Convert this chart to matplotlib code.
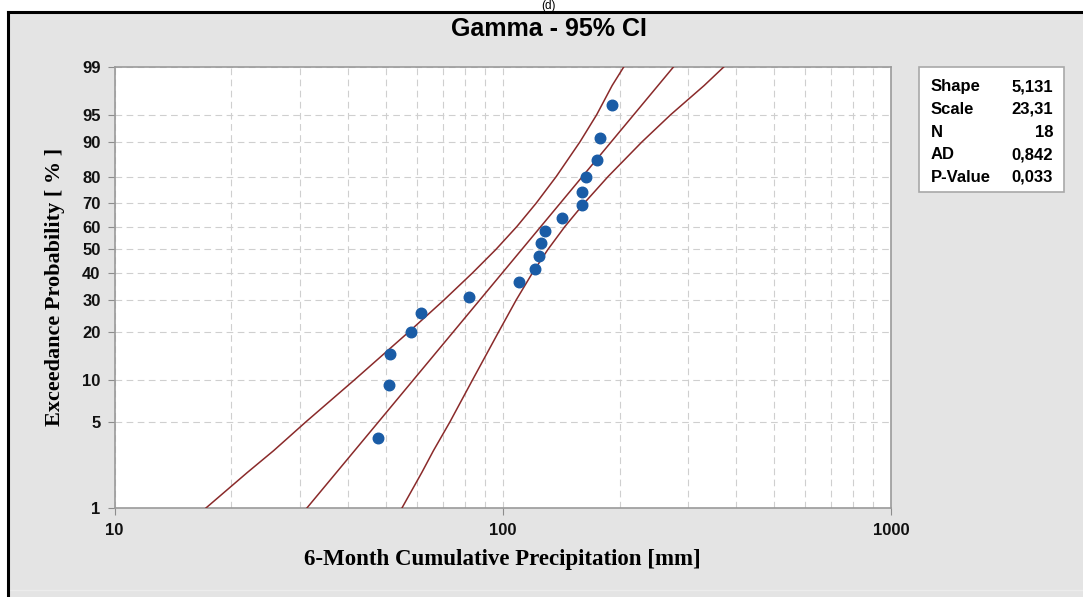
# Gamma probability plot (95% CI) - 6-month cumulative precipitation
import math
import numpy as np
import matplotlib
matplotlib.use("Agg")
import matplotlib.pyplot as plt
from matplotlib.patches import Rectangle
from matplotlib.lines import Line2D
from matplotlib.ticker import FixedLocator, FixedFormatter, NullFormatter

# -------- Data --------
SHAPE = 5.131
SCALE = 23.31

# sample points: precipitation [mm] and plotted probability [%]
PRECIP = [47.6, 50.8, 51.2, 58.0, 61.4, 81.9, 109.8, 121.4, 124.0,
          125.7, 128.3, 142.1, 160.3, 160.3, 164.3, 175.4, 178.4, 191.5]
PROB_PTS = [3.8, 9.2, 14.7, 20.1, 25.5, 31.0, 36.4, 41.8, 47.3,
            52.7, 58.2, 63.6, 69.0, 74.5, 79.9, 85.3, 90.8, 96.2]

# 95% confidence band, read at these probability levels
BAND_PROBS = [1, 2, 3, 5, 10, 20, 30, 40, 50, 60, 70, 80, 90, 95, 98, 99]
LOWER_CI = [17.2, 22.0, 25.7, 31.1, 41.5, 57.2, 70.7, 83.4, 96.0,
            108.7, 122.0, 137.3, 158.1, 174.6, 191.3, 204.9]
UPPER_CI = [55.0, 61.9, 66.3, 73.1, 83.6, 97.5, 108.4, 119.1, 130.7,
            144.5, 162.2, 186.7, 228.4, 270.8, 330.1, 370.8]

Y_TICKS = [1, 5, 10, 20, 30, 40, 50, 60, 70, 80, 90, 95, 99]
X_TICKS = [10, 100, 1000]
X_MINOR = [20, 30, 40, 50, 60, 70, 80, 90, 200, 300, 400, 500, 600, 700, 800, 900]

STATS_NAMES = ["Shape", "Scale", "N", "AD", "P-Value"]
STATS_VALUES = ["5,131", "23,31", "18", "0,842", "0,033"]

# -------- Settings --------
W, H = 1083, 597
PANEL = "#e4e4e4"
LINE_C = "#8a2a2a"
DOT_C = "#1a5ca6"
SANS = ["Liberation Sans", "DejaVu Sans"]
SERIF = ["Liberation Serif", "DejaVu Serif"]


# -------- Gamma helpers for the probability scale --------
def gamma_cdf(x, a=SHAPE):
    x = np.clip(np.asarray(x, dtype=float).ravel(), 1e-12, 100.0)
    term = np.full_like(x, 1.0 / a)
    total = term.copy()
    for n in range(1, 220):
        term = term * x / (a + n)
        total += term
    return np.clip(np.exp(a * np.log(x) - x - math.lgamma(a)) * total, 0.0, 1.0)


def gamma_ppf(q, a=SHAPE):
    q = np.clip(np.asarray(q, dtype=float).ravel(), 1e-9, 1 - 1e-9)
    lo = np.full_like(q, -20.0)
    hi = np.full_like(q, 4.6)
    for _ in range(55):
        mid = 0.5 * (lo + hi)
        below = gamma_cdf(np.exp(mid), a) < q
        lo = np.where(below, mid, lo)
        hi = np.where(below, hi, mid)
    return np.exp(0.5 * (lo + hi))


def prob_forward(p):
    p = np.asarray(p, dtype=float)
    return np.log(gamma_ppf(p.ravel() / 100.0)).reshape(p.shape)


def prob_inverse(y):
    y = np.asarray(y, dtype=float)
    return (100.0 * gamma_cdf(np.exp(np.clip(y.ravel(), -25, 4.6)))).reshape(y.shape)


# -------- Figure --------
fig = plt.figure(figsize=(W / 100, H / 100), dpi=100)
fig.patch.set_facecolor("white")

def px(x, y):
    return x / W, 1 - y / H

# grey panel with black frame on left/top
fig.patches.append(Rectangle(px(8, H), (W - 8) / W, (H - 12) / H,
                             transform=fig.transFigure, facecolor=PANEL,
                             edgecolor="none", zorder=-10))
fig.add_artist(Line2D([10 / W, 1], [1 - 590 / H, 1 - 590 / H], color="#ececec", lw=1,
                      transform=fig.transFigure, zorder=-6))
fig.add_artist(Line2D([8 / W, 8 / W], [0, 1 - 12 / H], color="black", lw=2.2,
                      transform=fig.transFigure, zorder=-5))
fig.add_artist(Line2D([8 / W, 1], [1 - 12 / H, 1 - 12 / H], color="black", lw=2.2,
                      transform=fig.transFigure, zorder=-5))
fig.text(548 / W, 1 - 0.5 / H, "(d)", ha="center", va="top", fontsize=8.5,
         family=SANS)

# axes
x0, x1, y0, y1 = 114.5, 891, 67, 508
ax = fig.add_axes([x0 / W, 1 - y1 / H, (x1 - x0) / W, (y1 - y0) / H], zorder=2)
ax.set_facecolor("white")
ax.set_xscale("log")
ax.set_yscale("function", functions=(prob_forward, prob_inverse))
ax.set_xlim(10, 1000)
ax.set_ylim(1, 99)

# fitted line and CI bands
fit_p = np.array(BAND_PROBS, dtype=float)
fit_x = SCALE * gamma_ppf(fit_p / 100.0)
ax.plot(fit_x, fit_p, color=LINE_C, lw=1.1, zorder=3)
ax.plot(LOWER_CI, BAND_PROBS, color=LINE_C, lw=1.1, zorder=3)
ax.plot(UPPER_CI, BAND_PROBS, color=LINE_C, lw=1.1, zorder=3)

ax.plot(PRECIP, PROB_PTS, "o", color=DOT_C, ms=7.6, mec=DOT_C, zorder=4)

# ticks and grid
ax.yaxis.set_major_locator(FixedLocator(Y_TICKS))
ax.yaxis.set_major_formatter(FixedFormatter([str(v) for v in Y_TICKS]))
ax.yaxis.set_minor_locator(FixedLocator([]))
ax.xaxis.set_major_locator(FixedLocator(X_TICKS))
ax.xaxis.set_major_formatter(FixedFormatter([str(v) for v in X_TICKS]))
ax.xaxis.set_minor_locator(FixedLocator(X_MINOR))
ax.xaxis.set_minor_formatter(NullFormatter())

ax.tick_params(axis="both", which="major", length=5, width=0.8, color="#8c8c8c",
               labelsize=12, pad=5)
ax.tick_params(axis="x", which="major", pad=6)
ax.tick_params(axis="x", which="minor", length=0)
for lab in ax.get_xticklabels() + ax.get_yticklabels():
    lab.set_fontweight("bold")
    lab.set_family(SANS)
    lab.set_color("#111111")

ax.grid(True, which="major", axis="both", color="#cfcfcf", ls=(0, (6, 4)), lw=0.8)
ax.grid(True, which="minor", axis="x", color="#cfcfcf", ls=(0, (6, 4)), lw=0.8)
ax.set_axisbelow(True)
for sp in ax.spines.values():
    sp.set_color("#9a9a9a")
    sp.set_linewidth(1.2)

# labels
fig.text(549 / W, 1 - 29 / H, "Gamma - 95% CI", ha="center", va="center",
         fontsize=18, fontweight="bold", family=SANS)
fig.text(55 / W, 1 - 287 / H, "Exceedance Probability [ % ]", ha="center",
         va="center", rotation=90, fontsize=16, fontweight="bold", family=SERIF)
fig.text(502 / W, 1 - 560 / H, "6-Month Cumulative Precipitation [mm]",
         ha="center", va="center", fontsize=16.5, fontweight="bold", family=SERIF)

# statistics box
fig.patches.append(Rectangle(px(919, 192), 145 / W, 125 / H,
                             transform=fig.transFigure, facecolor="white",
                             edgecolor="#a8a8a8", lw=1.2, zorder=1))
for i, (name, val) in enumerate(zip(STATS_NAMES, STATS_VALUES)):
    yy = 87 + 22.5 * i
    fig.text(931 / W, 1 - yy / H, name, ha="left", va="center", fontsize=12,
             fontweight="bold", family=SANS, zorder=3)
    fig.text(1053 / W, 1 - yy / H, val, ha="right", va="center", fontsize=12,
             fontweight="bold", family=SANS, zorder=3)

fig.savefig("out.png", dpi=100)
